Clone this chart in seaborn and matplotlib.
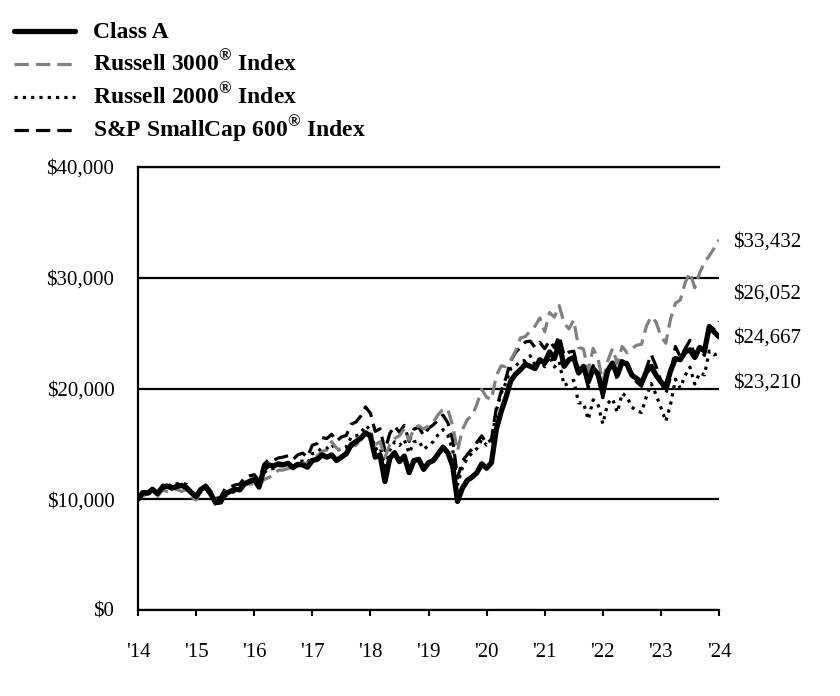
import matplotlib
matplotlib.use("Agg")
import matplotlib.pyplot as plt
from matplotlib.lines import Line2D
import pandas as pd
import seaborn as sns

# growth of $10,000, monthly, Sep 2014 .. Sep 2024
class_a = [
    10000, 10600, 10550, 10900, 10500, 11050, 11200, 11000, 11150, 11250, 11050, 10600,
    10250, 10900, 11100, 10500, 9700, 9750, 10500, 10700, 10900, 10850, 11400, 11600,
    11800, 11100, 12700, 13100, 13000, 13200, 13100, 13250, 12850, 13150, 13100, 12900,
    13500, 13600, 14000, 13800, 14000, 13500, 13800, 14100, 14900, 15200, 15500, 16000,
    15700, 13800, 14000, 11600, 13700, 14200, 13400, 13900, 12400, 13500, 13600, 12700,
    13300, 13500, 14100, 14700, 14200, 13000, 9800, 11000, 11700, 12000, 12400, 13200,
    12800, 13300, 16300, 17900, 19200, 20700, 21300, 21700, 22200, 22000, 21800, 22600,
    22300, 23300, 22700, 24100, 22000, 22600, 22800, 21400, 22000, 20600, 21800, 21300,
    19600, 21600, 22300, 21200, 22400, 22200, 21200, 20900, 20500, 21500, 22000, 21200,
    20600, 20100, 21600, 22700, 22600, 23300, 23500, 22800, 23700, 23400, 25600, 25100,
    24667,
]
russell_3000 = [
    10000, 10275, 10520, 10520, 10240, 10820, 10710, 10770, 10900, 10700, 10880, 10220,
    9930, 10720, 10770, 10550, 9960, 9960, 10660, 10730, 10920, 10940, 11340, 11370,
    11390, 11260, 11760, 11960, 12180, 12630, 12640, 12770, 12900, 13010, 13250, 13270,
    13590, 13890, 14310, 14440, 15200, 14630, 14330, 14380, 14770, 14870, 15350, 15870,
    15940, 14930, 15200, 13780, 14950, 15480, 15750, 16370, 15330, 16400, 16640, 16340,
    16630, 16980, 17630, 18130, 18130, 16640, 14360, 16280, 17180, 17550, 18570, 19920,
    19220, 18980, 21150, 22050, 21970, 22590, 23390, 24570, 24680, 25210, 25630, 26370,
    25120, 26860, 26450, 27490, 25890, 25380, 26190, 23710, 23570, 21570, 23630, 22700,
    20590, 22460, 23610, 22240, 23800, 23230, 23600, 23910, 23990, 25620, 26490, 25990,
    24740, 24080, 26300, 27700, 27990, 29540, 30480, 29100, 30440, 31390, 31980, 32670,
    33432,
]
russell_2000 = [
    10000, 10660, 10660, 10960, 10610, 11240, 11430, 11140, 11390, 11480, 11340, 10630,
    10110, 10680, 11030, 10480, 9560, 9560, 10320, 10490, 10730, 10720, 11350, 11560,
    11690, 11130, 12380, 12730, 12780, 13020, 13030, 13180, 12910, 13360, 13450, 13280,
    14110, 14230, 14650, 14590, 14970, 14390, 14580, 14710, 15600, 15710, 15980, 16660,
    16260, 14490, 14720, 12970, 14430, 15180, 14860, 15370, 14170, 15180, 15270, 14520,
    14830, 15210, 15840, 16290, 15770, 14450, 11310, 12860, 13700, 14180, 14570, 15390,
    14880, 15190, 17990, 19550, 20530, 21800, 22020, 22480, 22530, 22960, 22130, 22620,
    21960, 22900, 21940, 22420, 20270, 20490, 20740, 18690, 18720, 17190, 18980, 18580,
    16800, 18650, 19080, 17840, 19570, 19240, 18320, 17990, 17830, 19270, 20450, 19430,
    18280, 17040, 18570, 20840, 20030, 21170, 21930, 20400, 21420, 21230, 23390, 23040,
    23210,
]
sp_600 = [
    10000, 10690, 10630, 10930, 10540, 11150, 11330, 11030, 11210, 11300, 11230, 10650,
    10290, 10990, 11290, 10740, 10070, 10160, 10960, 11100, 11290, 11360, 11930, 12100,
    12220, 11680, 13150, 13580, 13500, 13730, 13810, 13930, 13600, 14010, 14160, 13810,
    14870, 15030, 15570, 15480, 15870, 15250, 15620, 15760, 16770, 16970, 17500, 18340,
    17770, 16130, 16360, 14400, 15930, 16610, 16050, 16670, 15220, 16330, 16510, 15750,
    16400, 16720, 17180, 17600, 16900, 15350, 11920, 13460, 14030, 14550, 15140, 15730,
    15020, 15410, 18200, 19720, 20960, 22520, 23270, 23740, 24200, 24280, 23720, 24160,
    23590, 24310, 23690, 24770, 22960, 23290, 23370, 21550, 21960, 20080, 22070, 21130,
    19170, 21590, 22310, 20820, 22780, 22320, 21170, 20580, 20200, 21840, 23070, 22010,
    20680, 19490, 21090, 23800, 22850, 23590, 24350, 22970, 23530, 22990, 25480, 25460,
    26052,
]
year_labels = ["'14", "'15", "'16", "'17", "'18", "'19", "'20", "'21", "'22", "'23", "'24"]

GRAY = "#808080"
REG = "$^{\\mathbf{\u00ae}}$"
series = [
    ("Class A", class_a, "black", "-", 3.8),
    ("Russell 3000" + REG + " Index", russell_3000, GRAY, (0, (4.5, 2.2)), 2.3),
    ("Russell 2000" + REG + " Index", russell_2000, "black", (0, (1, 1.6)), 2.3),
    ("S&P SmallCap 600" + REG + " Index", sp_600, "black", (0, (4.5, 2.2)), 2.3),
]

sns.set_theme(style="white")
plt.rcParams["font.family"] = ["Liberation Serif", "DejaVu Serif"]
plt.rcParams["mathtext.fontset"] = "custom"
plt.rcParams["mathtext.rm"] = "Liberation Serif"
plt.rcParams["mathtext.bf"] = "Liberation Serif:bold"
plt.rcParams["text.color"] = "black"
plt.rcParams["xtick.labelcolor"] = "black"
plt.rcParams["ytick.labelcolor"] = "black"

W, H = 840, 696
fig = plt.figure(figsize=(W / 100, H / 100), dpi=100)
ax = fig.add_axes([138 / W, 86 / H, 581 / W, 443 / H])

# draw indices first, fund line on top
for name, vals, color, ls, lw in series[::-1]:
    df = pd.DataFrame({"month": range(len(vals)), "value": vals})
    sns.lineplot(data=df, x="month", y="value", ax=ax, color=color,
                 linestyle=ls, linewidth=lw, legend=False)

ax.set_xlim(0, 120)
ax.set_ylim(0, 40000)
ax.set_xticks(range(0, 121, 12))
ax.set_xticklabels(year_labels)
ax.set_yticks([0, 10000, 20000, 30000, 40000])
ax.set_yticklabels([f"${v:,.0f}" for v in [0, 10000, 20000, 30000, 40000]])
ax.set_xlabel("")
ax.set_ylabel("")
ax.tick_params(axis="x", direction="out", length=4, width=1.5, color="black",
               labelcolor="black", labelsize=15, pad=20, bottom=True)
ax.tick_params(axis="y", length=0, labelcolor="black", labelsize=15, pad=17)
ax.grid(axis="y", color="black", linewidth=1.6)
ax.grid(axis="x", visible=False)
for side in ["left", "bottom", "top"]:
    ax.spines[side].set_visible(True)
    ax.spines[side].set_color("black")
    ax.spines[side].set_linewidth(1.6)
ax.spines["right"].set_visible(False)

# legend block above the plot, rows evenly spaced
for i, (name, _, color, ls, lw) in enumerate(series):
    yc = 1 - (31 + 33 * i) / H
    fig.add_artist(Line2D([14 / W, 75 / W], [yc, yc], transform=fig.transFigure,
                          color=color, linestyle=ls, linewidth=lw))
    fig.text(93 / W, yc - 7 / H, name, fontsize=17, fontweight="bold",
             color="black", ha="left", va="baseline")

# ending values at the right edge
end_labels = [(russell_3000[-1], 242), (sp_600[-1], 294), (class_a[-1], 338), (russell_2000[-1], 383)]
for val, ypix in end_labels:
    fig.text(733 / W, 1 - ypix / H, f"${val:,.0f}", fontsize=15,
             color="black", ha="left", va="center")

fig.savefig("out.png", dpi=100)
